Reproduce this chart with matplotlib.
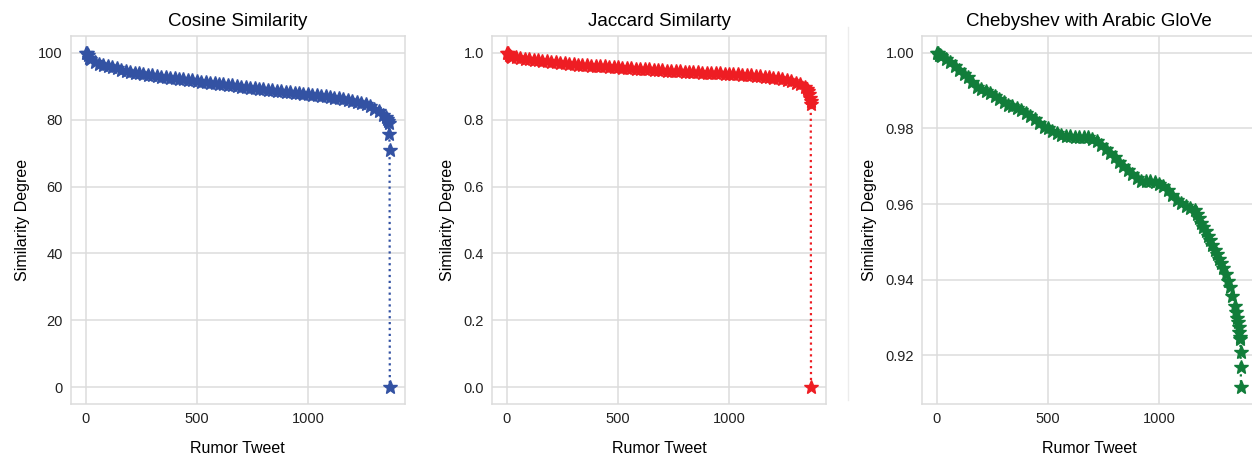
import matplotlib
matplotlib.use("Agg")
import matplotlib.pyplot as plt
from matplotlib.lines import Line2D

plt.rcParams["font.family"] = ["Liberation Sans", "DejaVu Sans"]

head_idx = [0, 5, 10, 15]
body_idx = head_idx + list(range(20, 1341, 20))

cosine_body = [
    100.0, 99.8, 99.2, 98.5,
    98.0, 97.1, 96.6, 96.2, 95.9, 95.6, 95.3, 94.9, 94.6, 94.3,   # 20..200
    94.0, 93.8, 93.6, 93.4, 93.2, 93.0, 92.8, 92.7, 92.5, 92.3,   # 220..400
    92.2, 92.0, 91.8, 91.7, 91.5, 91.3, 91.2, 91.0, 90.9, 90.7,   # 420..600
    90.6, 90.4, 90.3, 90.1, 89.9, 89.8, 89.6, 89.5, 89.3, 89.1,   # 620..800
    89.0, 88.9, 88.7, 88.6, 88.4, 88.3, 88.1, 88.0, 87.8, 87.7,   # 820..1000
    87.5, 87.4, 87.2, 87.0, 86.8, 86.6, 86.4, 86.2, 85.9, 85.7,   # 1020..1200
    85.4, 85.0, 84.6, 84.1, 83.3, 82.6, 81.5,                     # 1220..1340
]
cosine_tail_idx = [1350, 1356, 1361, 1365, 1367, 1368, 1369]
cosine_tail = [80.8, 80.2, 79.6, 79.0, 75.8, 71.0, 0.0]

jaccard_body = [
    1.000, 0.998, 0.994, 0.990,
    0.988, 0.986, 0.984, 0.982, 0.981, 0.979, 0.977, 0.976, 0.974, 0.973,
    0.971, 0.970, 0.968, 0.967, 0.966, 0.964, 0.963, 0.962, 0.961, 0.960,
    0.959, 0.959, 0.958, 0.957, 0.956, 0.955, 0.954, 0.953, 0.952, 0.951,
    0.951, 0.950, 0.949, 0.948, 0.947, 0.946, 0.946, 0.945, 0.944, 0.943,
    0.942, 0.942, 0.941, 0.940, 0.939, 0.939, 0.938, 0.938, 0.937, 0.937,
    0.936, 0.935, 0.934, 0.933, 0.932, 0.931, 0.929, 0.928, 0.926, 0.924,
    0.923, 0.921, 0.918, 0.915, 0.911, 0.906, 0.899,
]
jaccard_tail_idx = [1350, 1356, 1361, 1365, 1367, 1368, 1369]
jaccard_tail = [0.893, 0.887, 0.878, 0.866, 0.855, 0.846, 0.0]

cheby_body_idx = head_idx + list(range(20, 1161, 20))
cheby_body = [
    1.0000, 0.9998, 0.9995, 0.9993,
    0.9991, 0.9984, 0.9976, 0.9966, 0.9955, 0.9945, 0.9936, 0.9922, 0.9910, 0.9903,
    0.9898, 0.9893, 0.9886, 0.9878, 0.9870, 0.9863, 0.9859, 0.9854, 0.9849, 0.9842,
    0.9834, 0.9824, 0.9814, 0.9805, 0.9800, 0.9794, 0.9787, 0.9782, 0.9780, 0.9779,
    0.9778, 0.9778, 0.9778, 0.9776, 0.9771, 0.9766, 0.9756, 0.9746, 0.9736, 0.9724,
    0.9711, 0.9700, 0.9689, 0.9679, 0.9668, 0.9662, 0.9660, 0.9660, 0.9658, 0.9654,
    0.9648, 0.9636, 0.9623, 0.9612, 0.9602, 0.9595, 0.9590, 0.9584,
]
cheby_tail_idx = list(range(1170, 1341, 10)) + [1345, 1350, 1354, 1358, 1361,
                                                1364, 1366, 1367, 1368, 1369]
cheby_tail = [
    0.9574, 0.9562, 0.9551, 0.9540, 0.9528, 0.9516, 0.9504, 0.9492, 0.9480,
    0.9468, 0.9456, 0.9444, 0.9430, 0.9414, 0.9398, 0.9380, 0.9358, 0.9330,
    0.9315, 0.9300, 0.9288, 0.9275, 0.9262, 0.9250, 0.9244, 0.9209, 0.9169,
    0.9116,
]

panels = [
    ("Cosine Similarity", body_idx, cosine_body, cosine_tail_idx, cosine_tail, "#3352a3"),
    ("Jaccard Similarty", body_idx, jaccard_body, jaccard_tail_idx, jaccard_tail, "#ee1d23"),
    ("Chebyshev with Arabic GloVe", cheby_body_idx, cheby_body, cheby_tail_idx, cheby_tail,
     "#117d3a"),
]

W, H = 1252, 457
fig = plt.figure(figsize=(W / 100, H / 100), dpi=100)

lefts = [70.5, 491.7, 921.7]
grid_c = "#dcdcdc"

for left, (title, b_idx, body, t_idx, tail, color) in zip(lefts, panels):
    ax = fig.add_axes([left / W, 53 / H, 334.5 / W, 368 / H])
    xs = b_idx + t_idx
    ys = body + tail
    ax.plot(xs, ys, linestyle=":", linewidth=1.6, color=color,
            marker="*", markersize=10.5, markeredgewidth=1.0)

    ax.set_title(title, fontsize=13.5, pad=7)
    ax.set_xlabel("Rumor Tweet", fontsize=11.5, labelpad=11)
    ax.set_ylabel("Similarity Degree", fontsize=11.5, labelpad=6)
    ax.set_xticks([0, 500, 1000])
    ax.tick_params(length=0, labelsize=10.5, pad=5.5, colors="#222222")
    ax.grid(True, color=grid_c, linewidth=1.1)
    ax.set_axisbelow(True)
    for sp in ax.spines.values():
        sp.set_color(grid_c)
        sp.set_linewidth(1.1)

# faint separator left over from the composed figure
fig.add_artist(Line2D([848 / W, 848 / W], [57 / H, 430 / H],
                      transform=fig.transFigure, color="#ececec", linewidth=1))

fig.savefig("out.png", dpi=100)
plt.close(fig)
